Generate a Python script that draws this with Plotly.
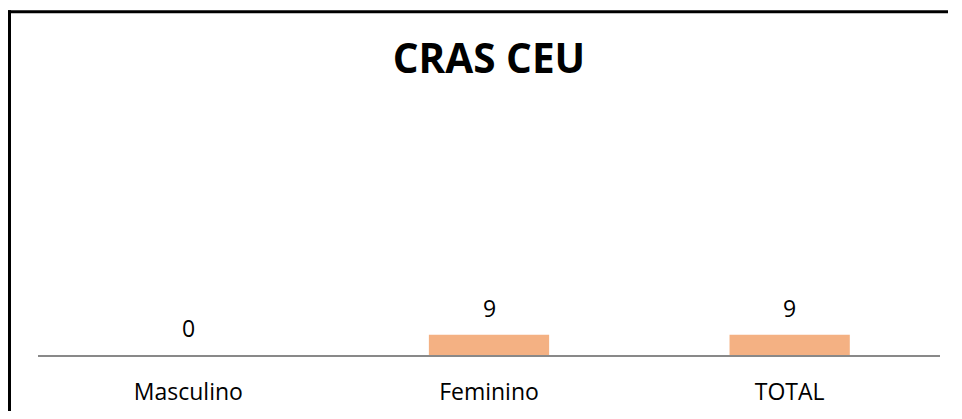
import plotly.graph_objects as go

categories = ["Masculino", "Feminino", "TOTAL"]
values = [0, 9, 9]
title_text = "CRAS CEU"

# the page places the figure 8px from each edge of the window (body margin),
# so the figure is sized to fit the remaining space without scrollbars
W, H = 946, 403
m_l, m_r, m_t, m_b = 30, 14, 122, 55.5
plot_w = W - m_l - m_r
plot_h = H - m_t - m_b

fig = go.Figure()
fig.add_trace(go.Bar(
    x=categories, y=values,
    marker=dict(color="#F4B183", line=dict(width=0)),
    width=0.4,
    hoverinfo="skip",
))

for c, v in zip(categories, values):
    fig.add_annotation(
        x=c, y=v, text=str(v), showarrow=False,
        yanchor="middle", yshift=27,
        font=dict(family="Open Sans", size=23, color="#000000"),
    )

# outer chart border (left and top edges visible)
left_px, top_px = 1.5, 3.5
fig.add_shape(type="line", xref="paper", yref="paper",
              x0=(left_px - m_l) / plot_w, x1=(left_px - m_l) / plot_w,
              y0=-1, y1=(H - m_b - top_px + 1.5) / plot_h,
              line=dict(color="#000000", width=3))
fig.add_shape(type="line", xref="paper", yref="paper",
              x0=(0 - m_l) / plot_w, x1=(940 - m_l) / plot_w,
              y0=(H - m_b - top_px) / plot_h, y1=(H - m_b - top_px) / plot_h,
              line=dict(color="#000000", width=3))

fig.update_layout(
    width=W, height=H,
    margin=dict(l=m_l, r=m_r, t=m_t, b=m_b, autoexpand=False),
    paper_bgcolor="#FFFFFF", plot_bgcolor="#FFFFFF",
    showlegend=False,
    title=dict(text="<b>" + title_text + "</b>", x=0.5, xanchor="center",
               xref="paper",
               y=1 - 51 / H, yanchor="middle", yref="container",
               font=dict(family="Open Sans", size=40.5, color="#000000")),
    xaxis=dict(showline=True, linecolor="#898989", linewidth=1.5,
               showgrid=False, zeroline=False, ticks="",
               ticklabelstandoff=16,
               tickfont=dict(family="Open Sans", size=23, color="#000000"),
               fixedrange=True),
    yaxis=dict(range=[0, 100], visible=False, showgrid=False, zeroline=False,
               fixedrange=True),
    bargap=0.6,
)

fig.write_html("out.html", config={"displayModeBar": False})
